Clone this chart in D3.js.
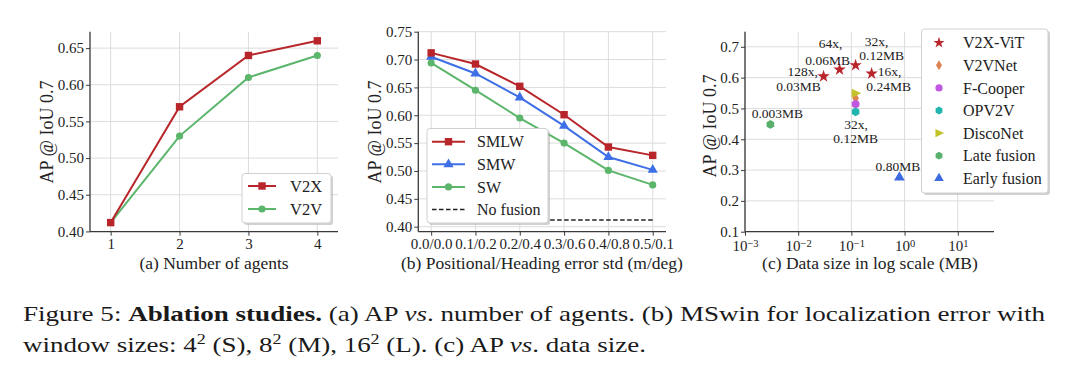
<!DOCTYPE html>
<html><head><meta charset="utf-8">
<script src="https://cdn.jsdelivr.net/npm/d3@7"></script>
<style>
html,body{margin:0;padding:0;background:#fff;}
svg{display:block;font-family:"Liberation Serif","Times New Roman",serif;}
svg text{font-family:"Liberation Serif","Times New Roman",serif;}
</style></head>
<body><svg id="c" width="1080" height="366"></svg>
<script>
// ---------- DATA ----------
// (a)
const agents = [1, 2, 3, 4];
const apV2X = [0.412, 0.570, 0.640, 0.660];
const apV2V = [0.412, 0.530, 0.610, 0.640];
const yTicksA = [0.40, 0.45, 0.50, 0.55, 0.60, 0.65];
// (b)
const errLabels = ["0.0/0.0", "0.1/0.2", "0.2/0.4", "0.3/0.6", "0.4/0.8", "0.5/0.1"];
const apSMLW = [0.712, 0.692, 0.652, 0.601, 0.543, 0.528];
const apSMW  = [0.705, 0.675, 0.632, 0.581, 0.525, 0.502];
const apSW   = [0.694, 0.645, 0.595, 0.550, 0.501, 0.475];
const apNoFusion = 0.412;
const yTicksB = [0.40, 0.45, 0.50, 0.55, 0.60, 0.65, 0.70, 0.75];
// (c)
const methods = ["V2X-ViT", "V2X-ViT", "V2X-ViT", "V2X-ViT", "V2VNet", "F-Cooper", "OPV2V", "DiscoNet", "Late fusion", "Early fusion"];
const sizeMB  = [0.03, 0.06, 0.12, 0.24, 0.12, 0.12, 0.12, 0.12, 0.003, 0.80];
const apC     = [0.604, 0.626, 0.640, 0.613, 0.533, 0.514, 0.489, 0.549, 0.448, 0.276];
const legendC = ["V2X-ViT", "V2VNet", "F-Cooper", "OPV2V", "DiscoNet", "Late fusion", "Early fusion"];
const yTicksC = [0.1, 0.2, 0.3, 0.4, 0.5, 0.6, 0.7];
const xExpC = [-3, -2, -1, 0, 1];
const annoText = [["128x,", "0.03MB"], ["64x,", "0.06MB"], ["32x,", "0.12MB"], ["16x,", "0.24MB"], ["0.003MB"], ["32x,", "0.12MB"], ["0.80MB"]];
const annoIdx  = [0, 1, 2, 3, 8, 6, 9];

// ---------- STYLE ----------
const annoOff = [[[-21,0],[-25,14.5]], [[-9,-22],[-12,-5]], [[21,-19],[26,-5]], [[18,2],[17,17.5]], [[7,-6.5]], [[0.5,17.5],[0,31]], [[-1.5,-6.5]]];
const colors = {red:"#b8262b", green:"#5bb56a", blue:"#3f6fe6", orange:"#dd8452", purple:"#c157e0", teal:"#22b5ad", olive:"#c2c22a", lgreen:"#5aaf6c", eblue:"#3e6ae0"};
const mColor = {"V2X-ViT":colors.red, "V2VNet":colors.orange, "F-Cooper":colors.purple, "OPV2V":colors.teal, "DiscoNet":colors.olive, "Late fusion":colors.lgreen, "Early fusion":colors.eblue};
const SPINE = "#3a3a3a", GRID = "#dcdcdc", TXT = "#222";
const FONT = "'Liberation Serif','Times New Roman',serif";

const svg = d3.select("#c");

// custom symbols
const hexagon = {draw(ctx, size){const r=Math.sqrt(size/2.598);for(let i=0;i<6;i++){const a=Math.PI/3*i-Math.PI/2;const x=r*Math.cos(a),y=r*Math.sin(a);i?ctx.lineTo(x,y):ctx.moveTo(x,y);}ctx.closePath();}};
const thinDiamond = {draw(ctx,size){const r=Math.sqrt(size)*0.75;ctx.moveTo(0,-r);ctx.lineTo(r*0.6,0);ctx.lineTo(0,r);ctx.lineTo(-r*0.6,0);ctx.closePath();}};
const triRight = {draw(ctx,size){const r=Math.sqrt(size)*0.7;ctx.moveTo(r,0);ctx.lineTo(-r*0.7,r*0.8);ctx.lineTo(-r*0.7,-r*0.8);ctx.closePath();}};
const mSym = {"V2X-ViT":d3.symbolStar, "V2VNet":thinDiamond, "F-Cooper":d3.symbolCircle, "OPV2V":hexagon, "DiscoNet":triRight, "Late fusion":hexagon, "Early fusion":d3.symbolTriangle};
const mSize = {"V2X-ViT":48, "V2VNet":55, "F-Cooper":50, "OPV2V":50, "DiscoNet":65, "Late fusion":50, "Early fusion":50};

function axesFrame(g, x, y, xTickVals, yTickVals, yFmt, left, right, top, bottom){
  g.append("g").selectAll("line").data(xTickVals).join("line")
    .attr("x1", d=>x(d)).attr("x2", d=>x(d)).attr("y1", top).attr("y2", bottom)
    .attr("stroke", GRID).attr("stroke-width", 1);
  g.append("g").selectAll("line").data(yTickVals).join("line")
    .attr("x1", left).attr("x2", right).attr("y1", d=>y(d)).attr("y2", d=>y(d))
    .attr("stroke", GRID).attr("stroke-width", 1);
  const ya = g.append("g").attr("transform", `translate(${left},0)`)
    .call(d3.axisLeft(y).tickValues(yTickVals).tickFormat(yFmt).tickSize(4).tickPadding(2));
  ya.attr("font-family", null);
  ya.select(".domain").attr("d", `M0,${top}V${bottom}`).attr("stroke", SPINE).attr("stroke-width", 1.3);
  ya.selectAll(".tick line").attr("stroke", SPINE).attr("stroke-width", 1);
  ya.selectAll(".tick text").style("font-family", FONT).attr("font-size", 15).attr("fill", TXT);
}
function bottomAxis(g, x, xTickVals, fmt, left, right, bottom, pad){
  const xa = g.append("g").attr("transform", `translate(0,${bottom})`)
    .call(d3.axisBottom(x).tickValues(xTickVals).tickFormat(fmt).tickSize(4).tickPadding(pad));
  xa.attr("font-family", null);
  xa.select(".domain").attr("d", `M${left},0H${right}`).attr("stroke", SPINE).attr("stroke-width", 1.3);
  xa.selectAll(".tick line").attr("stroke", SPINE).attr("stroke-width", 1);
  xa.selectAll(".tick text").style("font-family", FONT).attr("font-size", 15).attr("fill", TXT);
  return xa;
}
function yLabel(g, cx, cy){
  g.append("text").attr("transform", `translate(${cx},${cy}) rotate(-90)`).attr("text-anchor","middle")
    .attr("dy","0.35em").attr("font-size", 18).attr("fill", TXT).text("AP @ IoU 0.7");
}
function xLabel(g, cx, by, t){
  g.append("text").attr("x", cx).attr("y", by).attr("text-anchor","middle").attr("font-size", 17.5).attr("fill", TXT).text(t);
}
function legendBox(g, x0, y0, w, h){
  g.append("rect").attr("x", x0+2).attr("y", y0+2).attr("width", w).attr("height", h).attr("rx", 3)
    .attr("fill", "#999").attr("opacity", 0.45);
  g.append("rect").attr("x", x0).attr("y", y0).attr("width", w).attr("height", h).attr("rx", 3)
    .attr("fill", "#fff").attr("stroke", "#d0d0d0").attr("stroke-width", 1);
}
function series(g, x, y, xs, ys, color, sym, sz){
  g.append("path").datum(xs.map((d,i)=>[d, ys[i]]))
    .attr("d", d3.line().x(d=>x(d[0])).y(d=>y(d[1])))
    .attr("fill","none").attr("stroke", color).attr("stroke-width", 2);
  g.append("g").selectAll("path").data(xs.map((d,i)=>[d, ys[i]])).join("path")
    .attr("transform", d=>`translate(${x(d[0])},${y(d[1])})`)
    .attr("d", d3.symbol(sym, sz)).attr("fill", color);
}

// ---------- PANEL (a) ----------
{
  const L=90, R=338, T=31.7, B=231.7;
  const x = d3.scaleLinear().domain([0.7, 4.3]).range([L, R]);
  const y = d3.scaleLinear().domain([0.3996, 0.6724]).range([B, T]);
  const g = svg.append("g");
  axesFrame(g, x, y, agents, yTicksA, d3.format(".2f"), L, R, T, B);
  bottomAxis(g, x, agents, d3.format("d"), L, R, B, 3);
  series(g, x, y, agents, apV2V, colors.green, d3.symbolCircle, 40);
  series(g, x, y, agents, apV2X, colors.red, d3.symbolSquare, 55);
  yLabel(g, 47, 132);
  xLabel(g, 214, 269, "(a) Number of agents");
  legendBox(g, 242, 173.5, 89, 49.5);
  const ents = [["V2X", colors.red, d3.symbolSquare, 55], ["V2V", colors.green, d3.symbolCircle, 40]];
  ents.forEach((e,i)=>{
    const yy = 186 + i*23;
    g.append("line").attr("x1",248).attr("x2",276).attr("y1",yy).attr("y2",yy).attr("stroke",e[1]).attr("stroke-width",2);
    g.append("path").attr("transform",`translate(262,${yy})`).attr("d", d3.symbol(e[2], e[3])).attr("fill", e[1]);
    g.append("text").attr("x",290).attr("y",yy).attr("dy","0.35em").attr("font-size",16.5).attr("fill",TXT).text(e[0]);
  });
}

// ---------- PANEL (b) ----------
{
  const L=418.3, R=666, T=31.7, B=231.7;
  const idx = errLabels.map((d,i)=>i);
  const x = d3.scaleLinear().domain([-0.29, 5.3]).range([L, R]);
  const y = d3.scaleLinear().domain([0.391, 0.75]).range([B, T]);
  const g = svg.append("g");
  axesFrame(g, x, y, idx, yTicksB, d3.format(".2f"), L, R, T, B);
  bottomAxis(g, x, idx, i=>errLabels[i], L, R, B, 3);
  g.append("line").attr("x1", x(0)).attr("x2", x(5)).attr("y1", y(apNoFusion)).attr("y2", y(apNoFusion))
    .attr("stroke", "#222").attr("stroke-width", 1.4).attr("stroke-dasharray", "4.5,2.5");
  series(g, x, y, idx, apSW, colors.green, d3.symbolCircle, 40);
  series(g, x, y, idx, apSMW, colors.blue, d3.symbolTriangle, 45);
  series(g, x, y, idx, apSMLW, colors.red, d3.symbolSquare, 55);
  yLabel(g, 375, 132);
  xLabel(g, 542, 269, "(b) Positional/Heading error std (m/deg)");
  legendBox(g, 427, 128.5, 121, 94.5);
  const ents = [["SMLW", colors.red, d3.symbolSquare, 55], ["SMW", colors.blue, d3.symbolTriangle, 45], ["SW", colors.green, d3.symbolCircle, 40], ["No fusion", "#222", null, 0]];
  ents.forEach((e,i)=>{
    const yy = 141.7 + i*22.6;
    const ln = g.append("line").attr("x1",432).attr("x2",465).attr("y1",yy).attr("y2",yy).attr("stroke",e[1]).attr("stroke-width", e[2]?2:1.4);
    if (e[2]) g.append("path").attr("transform",`translate(448.5,${yy})`).attr("d", d3.symbol(e[2], e[3])).attr("fill", e[1]);
    else ln.attr("stroke-dasharray","4.5,2.5");
    g.append("text").attr("x",477).attr("y",yy).attr("dy","0.35em").attr("font-size",16).attr("fill",TXT).text(e[0]);
  });
}

// ---------- PANEL (c) ----------
{
  const L=745, R=994, T=31.7, B=231.7;
  const x = d3.scaleLog().domain([1e-3, 48]).range([L, R]);
  const y = d3.scaleLinear().domain([0.1, 0.749]).range([B, T]);
  const xTicks = xExpC.map(e=>Math.pow(10, e));
  const g = svg.append("g");
  axesFrame(g, x, y, xTicks, yTicksC, d3.format(".1f"), L, R, T, B);
  const xa = bottomAxis(g, x, xTicks, ()=>"", L, R, B, 5);
  xa.selectAll(".tick text").each(function(d, i){
    const t = d3.select(this);
    t.append("tspan").text("10");
    t.append("tspan").attr("dy", "-0.4em").attr("font-size", 10.5).text(xExpC[i] < 0 ? "\u2212" + Math.abs(xExpC[i]) : String(xExpC[i]));
  });
  g.append("g").selectAll("path").data(methods.map((m,i)=>[m, sizeMB[i], apC[i]])).join("path")
    .attr("transform", d=>`translate(${x(d[1])},${y(d[2])})`)
    .attr("d", d=>d3.symbol(mSym[d[0]], mSize[d[0]])())
    .attr("fill", d=>mColor[d[0]]);
  annoIdx.forEach((pi, k)=>{
    const px = x(sizeMB[pi]), py = y(apC[pi]);
    annoText[k].forEach((t, j)=>{
      g.append("text").attr("x", px + annoOff[k][j][0]).attr("y", py + annoOff[k][j][1])
        .attr("text-anchor","middle").attr("font-size", 13.5).attr("fill", TXT).text(t);
    });
  });
  yLabel(g, 710, 126);
  xLabel(g, 870, 269, "(c) Data size in log scale (MB)");
  legendBox(g, 921.5, 29, 126.5, 164);
  legendC.forEach((m,i)=>{
    const yy = 42.7 + i*22.6;
    g.append("path").attr("transform",`translate(939,${yy})`).attr("d", d3.symbol(mSym[m], mSize[m]*0.8)).attr("fill", mColor[m]);
    g.append("text").attr("x",963).attr("y",yy).attr("dy","0.35em").attr("font-size",16).attr("fill",TXT).text(m);
  });
}

// ---------- CAPTION ----------
{
  const c1 = svg.append("text").attr("x", 23).attr("y", 321).attr("font-size", 21).attr("fill", "#1a1a1a")
    .attr("textLength", 1022).attr("lengthAdjust", "spacingAndGlyphs");
  c1.append("tspan").text("Figure 5: ");
  c1.append("tspan").attr("font-weight","bold").text("Ablation studies.");
  c1.append("tspan").text(" (a) AP ");
  c1.append("tspan").attr("font-style","italic").text("vs");
  c1.append("tspan").text(". number of agents. (b) MSwin for localization error with");
  const c2 = svg.append("text").attr("x", 23).attr("y", 352).attr("font-size", 21).attr("fill", "#1a1a1a")
    .attr("textLength", 623).attr("lengthAdjust", "spacingAndGlyphs");
  c2.append("tspan").text("window sizes: 4");
  c2.append("tspan").attr("dy", -8).attr("font-size", 14).text("2");
  c2.append("tspan").attr("dy", 8).text(" (S), 8");
  c2.append("tspan").attr("dy", -8).attr("font-size", 14).text("2");
  c2.append("tspan").attr("dy", 8).text(" (M), 16");
  c2.append("tspan").attr("dy", -8).attr("font-size", 14).text("2");
  c2.append("tspan").attr("dy", 8).text(" (L). (c) AP ");
  c2.append("tspan").attr("font-style","italic").text("vs");
  c2.append("tspan").text(". data size.");
}
</script></body></html>
